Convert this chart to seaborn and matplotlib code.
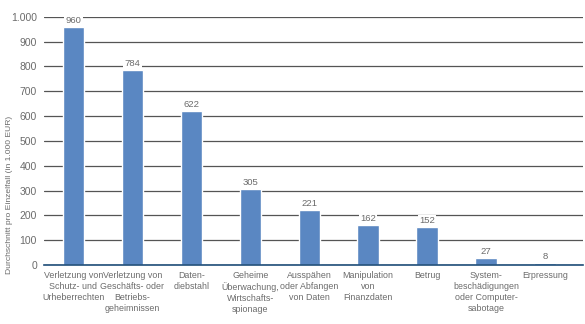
import matplotlib
matplotlib.use("Agg")
import matplotlib.pyplot as plt
import seaborn as sns
import pandas as pd
from matplotlib.ticker import FuncFormatter

categories = [
    "Verletzung von\nSchutz- und\nUrheberrechten",
    "Verletzung von\nGeschäfts- oder\nBetriebs-\ngeheimnissen",
    "Daten-\ndiebstahl",
    "Geheime\nÜberwachung,\nWirtschafts-\nspionage",
    "Ausspähen\noder Abfangen\nvon Daten",
    "Manipulation\nvon\nFinanzdaten",
    "Betrug",
    "System-\nbeschädigungen\noder Computer-\nsabotage",
    "Erpressung",
]
values = [960, 784, 622, 305, 221, 162, 152, 27, 8]
y_ticks = [0, 100, 200, 300, 400, 500, 600, 700, 800, 900, 1000]
y_label = "Durchschnitt pro Einzelfall (in 1.000 EUR)"

sns.set_style("white")
plt.rcParams['font.family'] = ['Liberation Sans', 'DejaVu Sans']

df = pd.DataFrame({"cat": categories, "val": values})

fig = plt.figure(figsize=(5.85, 3.24), dpi=100)
ax = fig.add_axes([0.075, 0.182, 0.922, 0.766])

sns.barplot(data=df, x="cat", y="val", color="#5a87c2", saturation=1, width=0.36, ax=ax, zorder=3)

text_col = "#6b6b6b"
ax.set_ylim(0, 1000)
ax.set_xlim(-0.5, 8.65)
ax.set_yticks(y_ticks)
ax.yaxis.set_major_formatter(FuncFormatter(lambda v, p: f"{int(v):,}".replace(",", ".")))
ax.grid(axis="y", color="#555555", linewidth=0.9, zorder=0)
ax.set_axisbelow(True)
for s in ["top", "right", "left"]:
    ax.spines[s].set_visible(False)
ax.spines["bottom"].set_color("#1f4e79")
ax.spines["bottom"].set_linewidth(1.2)
ax.spines["bottom"].set_zorder(4)
ax.tick_params(axis="y", length=0, labelsize=7.5, colors=text_col, pad=5)
ax.tick_params(axis="x", length=0, labelsize=6.4, colors=text_col, pad=4)
for t in ax.get_xticklabels():
    t.set_linespacing(1.3)
ax.set_xlabel("")
ax.set_ylabel("")
fig.text(0.016, 0.40, y_label, rotation=90, ha="center", va="center",
         fontsize=6.1, color=text_col)

for i, v in enumerate(values):
    ax.annotate(str(v), (i, v), xytext=(0, 1.5), textcoords="offset points",
                ha="center", va="bottom", fontsize=6.8, color=text_col, zorder=5,
                bbox=dict(boxstyle="square,pad=0.15", fc="white", ec="none"))

fig.savefig("out.png", dpi=100)
